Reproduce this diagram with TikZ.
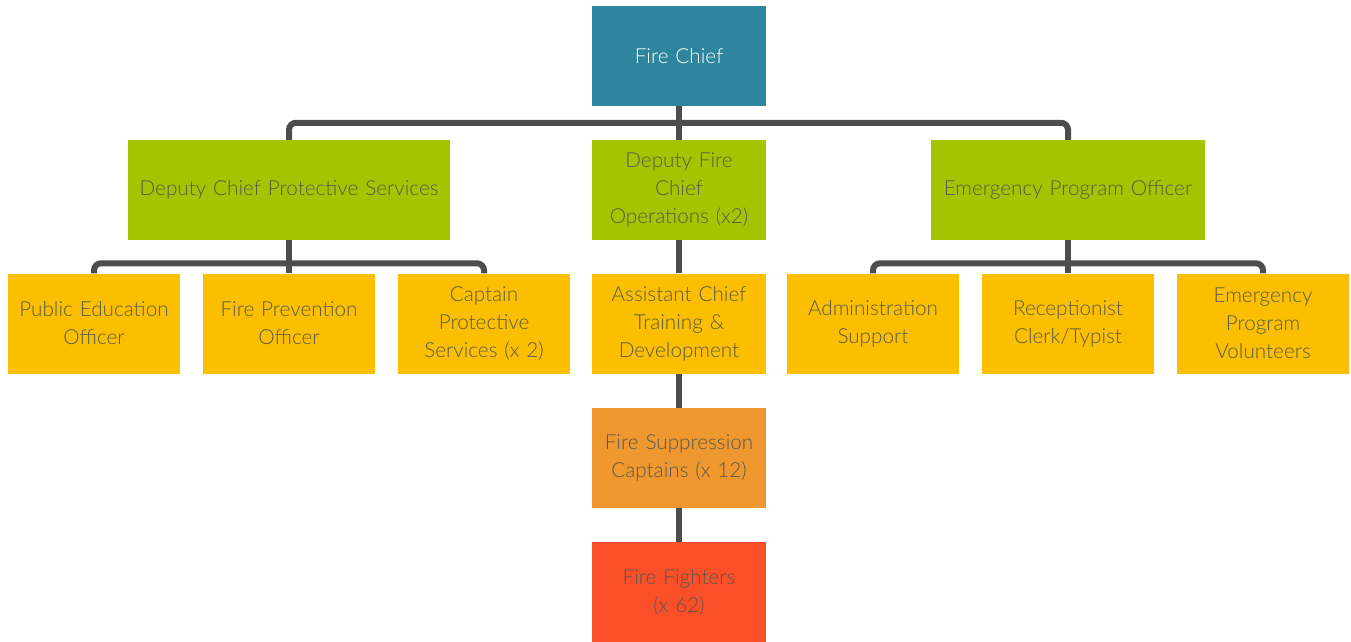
\documentclass[tikz,border=0pt]{standalone}
\usepackage{fontspec}
\setmainfont{Lato}[UprightFont={* Light}]
\definecolor{chief}{HTML}{2E869E}
\definecolor{deputy}{HTML}{A5C400}
\definecolor{staff}{HTML}{FBBF00}
\definecolor{captain}{HTML}{EF9830}
\definecolor{fighter}{HTML}{FA4F28}
\definecolor{linec}{HTML}{4D4D4D}
\definecolor{txt}{HTML}{5A5A4A}
\begin{document}
\begin{tikzpicture}[x=1pt,y=-1pt,
  box/.style={draw=none, inner sep=0pt, minimum height=100pt, align=center,
    font=\fontsize{20.7}{28}\selectfont, text=txt},
  narrow/.style={box, minimum width=174pt, text width=170pt},
  smallbox/.style={box, minimum width=172pt, text width=170pt},
  conn/.style={draw=linec, line width=6pt, rounded corners=7pt}]
\useasboundingbox (0,0) rectangle (1351,642);
% top
\node[narrow, fill=chief, text=white] (fc) at (679,56) {Fire Chief};
% deputies
\node[box, fill=deputy, minimum width=322pt, text width=316pt] (dcps) at (289,190) {Deputy Chief Protective Services};
\node[narrow, fill=deputy] (dfc) at (679,190) {Deputy Fire\\Chief\\Operations (x2)};
\node[box, fill=deputy, minimum width=274pt, text width=270pt] (epo) at (1068,190) {Emergency Program Officer};
% staff row
\node[smallbox, fill=staff] (peo) at (94,323.5) {Public Education\\Officer};
\node[smallbox, fill=staff] (fpo) at (289,323.5) {Fire Prevention\\Officer};
\node[smallbox, fill=staff] (cps) at (484,323.5) {Captain\\Protective\\Services (x 2)};
\node[narrow, fill=staff] (act) at (679,323.5) {Assistant Chief\\Training \&\\Development};
\node[smallbox, fill=staff] (adm) at (873,323.5) {Administration\\Support};
\node[smallbox, fill=staff] (rec) at (1068,323.5) {Receptionist\\Clerk/Typist};
\node[smallbox, fill=staff] (epv) at (1263,323.5) {Emergency\\Program\\Volunteers};
% lower chain
\node[narrow, fill=captain] (fsc) at (679,458) {Fire Suppression\\Captains (x 12)};
\node[narrow, fill=fighter] (ff) at (679,592) {Fire Fighters\\(x 62)};
% connectors
\draw[conn] (dcps.north) -- ++(0,-17) -| (epo.north);
\draw[conn] (fc.south) -- (dfc.north);
\draw[conn] (peo.north) -- ++(0,-10) -| (cps.north);
\draw[conn] (dcps.south) -- (fpo.north);
\draw[conn] (adm.north) -- ++(0,-10) -| (epv.north);
\draw[conn] (epo.south) -- (rec.north);
\draw[conn] (dfc.south) -- (act.north);
\draw[conn] (act.south) -- (fsc.north);
\draw[conn] (fsc.south) -- (ff.north);
\end{tikzpicture}
\end{document}
